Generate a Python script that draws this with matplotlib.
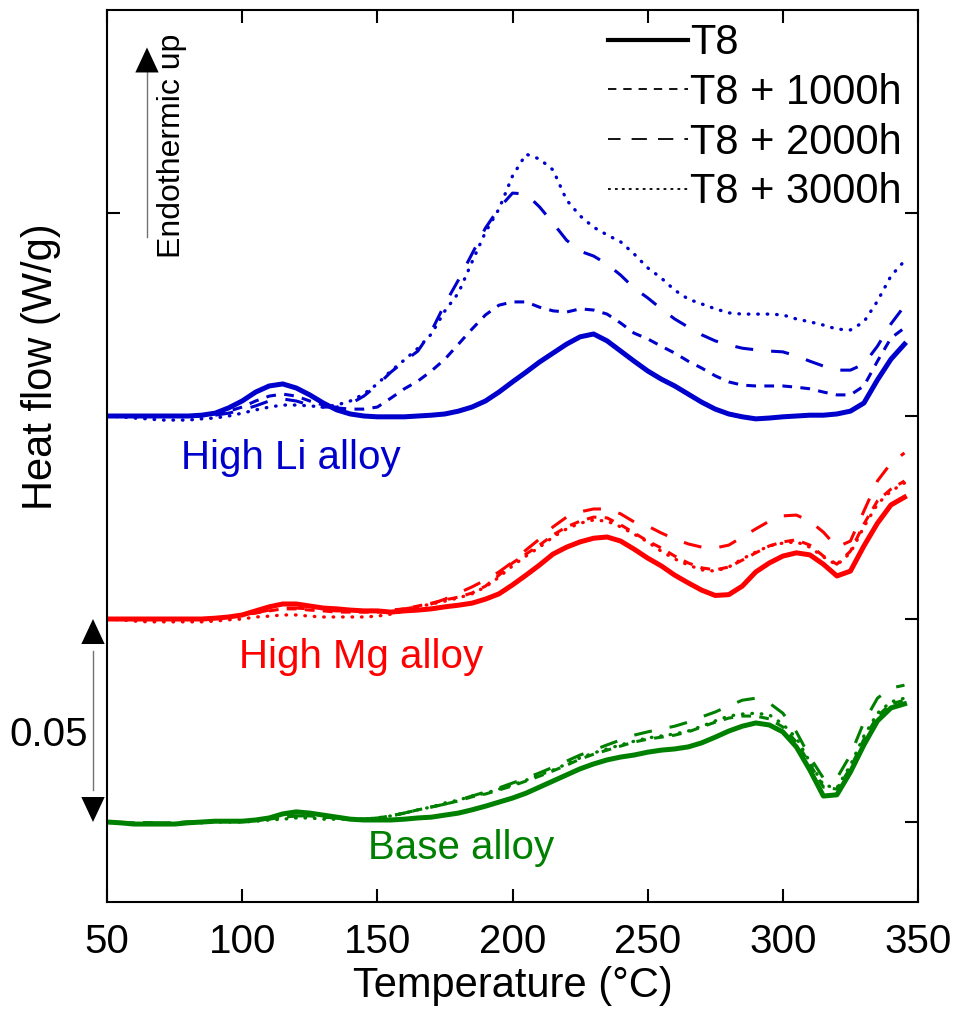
import matplotlib
matplotlib.use("Agg")
import matplotlib.pyplot as plt
from matplotlib.lines import Line2D
import numpy as np

plt.rcParams['font.family'] = ['Liberation Sans', 'DejaVu Sans']
plt.rcParams['lines.scale_dashes'] = False

# temperature (degC) and heat flow (mW/g) for each alloy, relative to own baseline
temp = [50, 55, 60, 65, 70, 75, 80, 85, 90, 95,
        100, 105, 110, 115, 120, 125, 130, 135, 140, 145,
        150, 155, 160, 165, 170, 175, 180, 185, 190, 195,
        200, 205, 210, 215, 220, 225, 230, 235, 240, 245,
        250, 255, 260, 265, 270, 275, 280, 285, 290, 295,
        300, 305, 310, 315, 320, 325, 330, 335, 340, 345]

li_t8 = [0, 0, 0, 0, 0, 0, 0, 0.2, 0.7, 2.0,
         3.7, 5.9, 7.4, 7.9, 6.9, 5.2, 3.2, 1.5, 0.5, 0,
         -0.2, -0.2, -0.2, 0, 0.2, 0.5, 1.2, 2.2, 3.7, 5.9,
         8.4, 10.8, 13.3, 15.5, 17.7, 19.5, 20.2, 18.5, 16.0, 13.5,
         11.1, 9.1, 7.4, 5.4, 3.4, 1.7, 0.5, -0.2, -0.7, -0.5,
         -0.2, 0, 0.2, 0.2, 0.5, 1.2, 3.2, 8.9, 14.0, 17.7]
li_1000 = [0, 0, 0, 0, 0, 0, 0, 0, 0.5, 1.2,
           2.2, 3.7, 4.9, 5.4, 4.9, 3.7, 2.7, 2.0, 1.7, 1.7,
           2.2, 4.4, 6.7, 8.6, 11.1, 14.0, 17.7, 21.4, 24.9, 27.3,
           28.1, 28.1, 26.8, 25.9, 25.6, 26.4, 26.1, 25.1, 22.9, 20.4,
           19.0, 17.2, 15.5, 13.5, 11.8, 9.9, 8.4, 7.6, 7.4, 7.4,
           7.4, 7.1, 6.7, 5.9, 5.2, 5.2, 7.4, 13.5, 19.2, 21.7]
li_2000 = [0, 0, 0, 0, 0, 0, 0, 0, 0.2, 0.7,
           1.5, 2.5, 3.7, 4.2, 3.7, 2.7, 2.2, 2.2, 3.0, 4.9,
           7.6, 10.8, 13.5, 16.0, 20.9, 27.6, 33.5, 39.9, 46.3, 51.2,
           54.9, 54.7, 51.5, 47.5, 43.3, 40.6, 39.4, 37.4, 34.7, 31.5,
           29.1, 26.4, 23.9, 21.9, 20.0, 18.5, 17.5, 16.7, 16.3, 16.0,
           15.8, 14.8, 13.5, 12.3, 11.3, 11.3, 12.8, 17.2, 22.7, 27.1]
li_3000 = [0, -0.2, -0.5, -0.7, -1.0, -1.0, -1.0, -0.7, -0.5, 0,
           0.7, 1.5, 2.2, 2.7, 2.7, 2.5, 2.2, 2.7, 3.7, 5.4,
           7.9, 11.1, 13.8, 16.7, 20.2, 25.9, 30.3, 37.9, 45.3, 51.0,
           59.1, 64.5, 63.3, 60.6, 53.2, 49.3, 46.5, 44.6, 42.9, 39.9,
           36.5, 34.0, 31.0, 28.8, 27.6, 26.4, 25.4, 25.1, 25.1, 25.1,
           24.9, 23.9, 23.2, 22.4, 21.4, 21.2, 23.2, 28.3, 34.5, 38.2]

mg_t8 = [0, 0, 0, 0, 0, 0, 0, 0, 0.2, 0.5,
         1.0, 2.0, 3.0, 3.7, 3.7, 3.2, 2.7, 2.5, 2.2, 2.0,
         2.0, 1.7, 2.0, 2.2, 2.5, 3.0, 3.4, 3.9, 4.9, 6.2,
         8.4, 10.8, 13.3, 16.0, 17.7, 19.0, 19.9, 20.2, 19.2, 17.2,
         15.0, 13.1, 10.8, 8.9, 7.1, 5.8, 6.0, 8.1, 11.6, 13.8,
         15.5, 16.3, 15.8, 13.5, 10.6, 11.8, 18.0, 23.6, 28.1, 30.0]
mg_1000 = [0, 0, 0, 0, 0, 0, 0, 0, 0.2, 0.5,
           1.0, 1.5, 2.0, 2.5, 2.5, 2.2, 2.0, 1.7, 1.7, 1.7,
           1.7, 2.0, 2.5, 3.2, 3.9, 4.7, 5.4, 6.4, 8.1, 10.8,
           13.8, 16.0, 18.2, 20.7, 22.7, 24.1, 25.1, 24.9, 23.2, 21.2,
           19.2, 17.5, 15.5, 13.8, 12.6, 12.1, 12.8, 14.5, 16.3, 18.0,
           19.0, 19.5, 18.2, 15.5, 13.5, 16.7, 23.4, 29.1, 32.0, 34.0]
mg_2000 = [0, 0, 0, 0, 0, 0, 0, 0, 0.2, 0.5,
           1.0, 1.5, 2.2, 2.7, 2.7, 2.5, 2.2, 2.0, 2.0, 2.0,
           2.0, 2.2, 2.5, 3.0, 3.7, 4.9, 6.4, 7.9, 9.6, 11.6,
           14.0, 17.0, 19.7, 22.7, 25.1, 26.4, 27.1, 27.1, 25.9, 23.9,
           22.9, 21.2, 19.7, 18.5, 17.7, 17.5, 18.2, 20.2, 22.2, 24.1,
           25.4, 25.6, 24.1, 21.4, 17.7, 19.2, 26.6, 34.0, 38.4, 40.9]
mg_3000 = [0, -0.2, -0.5, -0.7, -0.7, -0.7, -0.7, -0.7, -0.5, -0.2,
           0, 0.5, 0.7, 1.0, 1.0, 0.7, 0.5, 0.5, 0.5, 0.5,
           0.7, 1.2, 2.0, 3.0, 3.7, 4.4, 5.2, 6.2, 7.9, 10.3,
           13.1, 15.5, 17.7, 20.2, 22.2, 23.6, 24.4, 24.1, 22.7, 20.9,
           19.0, 16.7, 14.8, 13.3, 12.1, 11.8, 12.8, 14.8, 16.5, 18.0,
           18.7, 19.0, 17.7, 15.3, 13.3, 16.3, 22.7, 28.3, 31.5, 33.5]

base_t8 = [0, -0.2, -0.5, -0.5, -0.5, -0.5, -0.2, 0, 0.2, 0.2,
           0.2, 0.5, 1.0, 2.0, 2.5, 2.2, 1.7, 1.2, 0.7, 0.5,
           0.5, 0.5, 0.7, 1.0, 1.2, 1.7, 2.2, 3.0, 3.9, 4.9,
           5.9, 7.1, 8.6, 10.1, 11.6, 13.1, 14.3, 15.3, 16.0, 16.5,
           17.2, 17.7, 18.0, 18.5, 19.5, 20.9, 22.4, 23.6, 24.4, 23.9,
           22.2, 18.5, 12.8, 6.4, 6.7, 12.3, 19.0, 24.9, 28.1, 29.1]
base_1000 = [0, -0.2, -0.2, -0.2, -0.2, -0.2, 0, 0, 0.2, 0.2,
             0.2, 0.5, 0.7, 1.2, 1.5, 1.5, 1.2, 1.0, 0.7, 0.7,
             1.0, 1.5, 2.2, 3.0, 3.7, 4.4, 5.2, 6.2, 6.9, 7.9,
             8.9, 10.1, 11.3, 12.6, 14.0, 15.5, 16.7, 17.7, 18.7, 19.7,
             20.4, 20.9, 21.4, 22.2, 23.4, 24.6, 25.6, 26.1, 26.1, 25.4,
             23.4, 19.7, 14.3, 8.6, 8.1, 13.3, 20.4, 26.1, 29.1, 30.0]
base_2000 = [0, -0.2, -0.2, -0.2, -0.2, -0.2, 0, 0, 0.2, 0.2,
             0.2, 0.5, 0.7, 1.2, 1.5, 1.5, 1.2, 1.0, 0.7, 0.7,
             1.0, 1.5, 2.2, 3.0, 3.7, 4.4, 5.4, 6.4, 7.4, 8.4,
             9.6, 10.8, 12.1, 13.5, 15.0, 16.5, 17.7, 19.0, 20.2, 21.4,
             22.2, 22.9, 23.6, 24.6, 25.9, 27.1, 28.6, 30.0, 30.5, 29.3,
             26.8, 22.2, 16.0, 10.8, 10.8, 16.5, 24.6, 30.5, 33.0, 33.7]
base_3000 = [0, -0.2, -0.5, -0.5, -0.5, -0.5, -0.2, -0.2, 0, 0,
             0, 0.2, 0.5, 0.7, 1.0, 1.0, 0.7, 0.7, 0.7, 0.7,
             1.0, 1.5, 2.2, 3.0, 3.7, 4.7, 5.4, 6.4, 7.1, 8.1,
             9.1, 10.3, 11.6, 12.8, 14.3, 15.8, 17.0, 18.0, 19.0, 19.9,
             20.7, 21.2, 21.7, 22.4, 23.6, 24.9, 26.1, 26.6, 26.8, 26.4,
             24.1, 20.7, 14.8, 9.1, 8.4, 14.0, 21.2, 26.8, 29.6, 30.5]

alloys = [
    ('High Li alloy', 100, '#0000CC', [li_t8, li_1000, li_2000, li_3000], (118, 89.7)),
    ('High Mg alloy', 50, '#FF0000', [mg_t8, mg_1000, mg_2000, mg_3000], (144, 40.6)),
    ('Base alloy', 0, '#008000', [base_t8, base_1000, base_2000, base_3000], (181, -6.4)),
]
labels = ['T8', 'T8 + 1000h', 'T8 + 2000h', 'T8 + 3000h']
styles = [
    dict(lw=3.6, ls='-'),
    dict(lw=2.2, ls=(0, (7, 6))),
    dict(lw=2.2, ls=(0, (13, 13))),
    dict(lw=2.4, ls=(0, (0.4, 6.4)), dash_capstyle='round'),
]

fig = plt.figure(figsize=(9.62, 10.21), dpi=100)
ax = fig.add_axes([107 / 962, 1 - 902 / 1021, 811 / 962, 892 / 1021])

t = np.array(temp)
for name, off, color, curves, (tx, ty) in alloys:
    for y, st in zip(curves, styles):
        ax.plot(t, np.array(y) + off, color=color, solid_joinstyle='round', **st)
    ax.text(tx, ty, name, color=color, fontsize=29, ha='center', va='center')

ax.set_xlim(50, 350)
ax.set_ylim(-19.7, 200)
ax.set_xticks([50, 100, 150, 200, 250, 300, 350])
ax.set_yticks([0, 50, 100, 150])
ax.set_yticklabels([])
ax.tick_params(direction='in', length=9.5, width=1.5, top=True, right=True,
               labelsize=29, pad=15)
for sp in ax.spines.values():
    sp.set_linewidth(1.5)
ax.set_xlabel('Temperature (°C)', fontsize=30, labelpad=4)
fig.text(41 / 962, 1 - 367 / 1021, 'Heat flow (W/g)', rotation=90,
         fontsize=30, ha='center', va='center')

# legend with black sample lines
handles = [Line2D([], [], color='k', lw=3.0, ls='-'),
           Line2D([], [], color='k', lw=1.3, ls=(0, (6, 5))),
           Line2D([], [], color='k', lw=1.3, ls=(2, (11, 8))),
           Line2D([], [], color='k', lw=1.3, ls=(0, (2, 3)))]
ax.legend(handles, labels, loc='upper right', bbox_to_anchor=(0.997, 1.0),
          frameon=False, fontsize=30, handlelength=1.92, handletextpad=0.07,
          labelspacing=0.23, borderaxespad=0.0, borderpad=0.32)

# endothermic arrow
bt = ax.transAxes
head = dict(arrowstyle='-|>,head_length=0.9,head_width=0.42', mutation_scale=20,
            color='k', lw=0, shrinkA=0, shrinkB=0)
ax.plot([0.0493, 0.0493], [0.7455, 0.93], transform=bt, color='0.45', lw=1,
        clip_on=False)
ax.annotate('', xy=(0.0493, 0.958), xytext=(0.0493, 0.92), xycoords='axes fraction',
            arrowprops=head)
ax.text(0.0805, 0.848, 'Endothermic up', transform=bt, rotation=90, fontsize=23,
        ha='center', va='center')

# 0.05 W/g scale bar
sx = (93 - 107) / 811
ax.plot([sx, sx], [8, 42], transform=ax.get_yaxis_transform(), color='0.45', lw=1,
        clip_on=False)
tr = ('axes fraction', 'data')
ax.annotate('', xy=(sx, 50), xytext=(sx, 42), xycoords=tr, arrowprops=head,
            annotation_clip=False)
ax.annotate('', xy=(sx, 0), xytext=(sx, 8), xycoords=tr, arrowprops=head,
            annotation_clip=False)
ax.text((49 - 107) / 811, 21.4, '0.05', transform=ax.get_yaxis_transform(),
        fontsize=29, ha='center', va='center')

fig.savefig('out.png', dpi=100)
